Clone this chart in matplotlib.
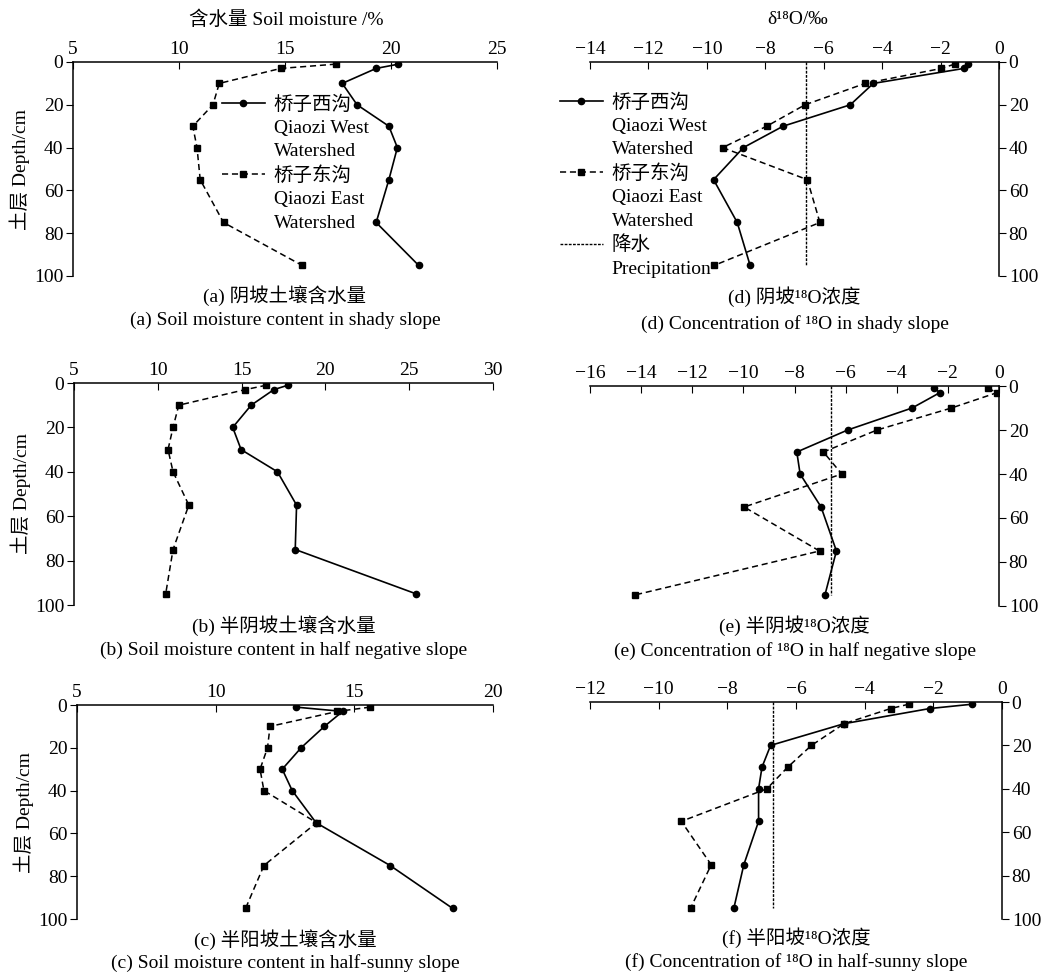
import matplotlib
matplotlib.use('Agg')
import matplotlib.pyplot as plt
from matplotlib.lines import Line2D

# depth of samples (cm)
depth = [1, 3, 10, 20, 30, 40, 55, 75, 95]
precip_depth = [0, 95]

# soil moisture (%)
west_a = [20.35, 19.3, 17.7, 18.4, 19.9, 20.3, 19.9, 19.3, 21.3]
east_a = [17.4, 14.8, 11.9, 11.6, 10.65, 10.85, 11.0, 12.1, 15.8]
west_b = [17.76, 16.92, 15.57, 14.47, 14.97, 17.14, 18.28, 18.2, 25.42]
east_b = [16.48, 15.21, 11.25, 10.91, 10.61, 10.91, 11.85, 10.91, 10.47]
west_c = [12.9, 14.58, 13.92, 13.08, 12.4, 12.76, 13.62, 16.29, 18.54]
east_c = [15.57, 14.39, 11.96, 11.87, 11.6, 11.74, 13.64, 11.74, 11.08]

# delta 18O (permil)
west_d = [-1.06, -1.2, -4.3, -5.09, -7.39, -8.75, -9.77, -8.96, -8.52]
east_d = [-1.52, -1.97, -4.58, -6.64, -7.95, -9.46, -6.56, -6.13, -9.74]
west_e = [-2.53, -2.31, -3.4, -5.92, -7.91, -7.78, -6.96, -6.36, -6.81]
east_e = [-0.44, -0.07, -1.86, -4.77, -6.87, -6.15, -9.97, -7.02, -14.25]
west_f = [-0.86, -2.1, -4.6, -6.74, -6.99, -7.09, -7.09, -7.52, -7.81]
east_f = [-2.71, -3.24, -4.6, -5.55, -6.24, -6.85, -9.34, -8.47, -9.07]
precip = {'d': -6.6, 'e': -6.58, 'f': -6.68}

xticks = {
    'a': [5, 10, 15, 20, 25],
    'b': [5, 10, 15, 20, 25, 30],
    'c': [5, 10, 15, 20],
    'd': [-14, -12, -10, -8, -6, -4, -2, 0],
    'e': [-16, -14, -12, -10, -8, -6, -4, -2, 0],
    'f': [-12, -10, -8, -6, -4, -2, 0],
}
cap_cn = {
    'a': '(a) 阴坡土壤含水量',
    'b': '(b) 半阴坡土壤含水量',
    'c': '(c) 半阳坡土壤含水量',
    'd': '(d) 阴坡¹⁸O浓度',
    'e': '(e) 半阴坡¹⁸O浓度',
    'f': '(f) 半阳坡¹⁸O浓度',
}
cap_en = {
    'a': '(a) Soil moisture content in shady slope',
    'b': '(b) Soil moisture content in half negative slope',
    'c': '(c) Soil moisture content in half-sunny slope',
    'd': '(d) Concentration of ¹⁸O in shady slope',
    'e': '(e) Concentration of ¹⁸O in half negative slope',
    'f': '(f) Concentration of ¹⁸O in half-sunny slope',
}

FAM = ['Liberation Serif', 'Noto Sans CJK SC', 'DejaVu Sans']
FS = 14
plt.rcParams['font.family'] = FAM
plt.rcParams['font.size'] = FS

W, H = 1043, 972
fig = plt.figure(figsize=(W / 100, H / 100), dpi=100)

# pixel boxes: left, right, top, bottom
boxes = {
    'a': (73, 497, 62, 276), 'd': (590, 999, 62, 276),
    'b': (74, 493, 383, 605), 'e': (590, 999, 386, 606),
    'c': (77, 493, 705, 919), 'f': (590, 1002, 702, 919),
}
cap_y = {'a': (296, 320), 'b': (626, 650), 'c': (940, 963),
         'd': (297, 324), 'e': (626, 651), 'f': (938, 962)}

data = {'a': (west_a, east_a), 'b': (west_b, east_b), 'c': (west_c, east_c),
        'd': (west_d, east_d), 'e': (west_e, east_e), 'f': (west_f, east_f)}

axes = {}
for k, (l, r, t, b) in boxes.items():
    ax = fig.add_axes([l / W, 1 - b / H, (r - l) / W, (b - t) / H])
    axes[k] = ax
    west, east = data[k]
    ax.plot(west, depth, color='k', lw=1.2, marker='o', ms=4.5)
    ax.plot(east, depth, color='k', lw=1.1, ls=(0, (4, 2.5)), marker='s', ms=5)
    if k in precip:
        ax.plot([precip[k], precip[k]], precip_depth, color='k', lw=1.0,
                ls=(0, (2, 1)))
    xt = xticks[k]
    ax.set_xlim(xt[0], xt[-1])
    ax.set_xticks(xt)
    ax.set_ylim(100, 0)
    ax.set_yticks([0, 20, 40, 60, 80, 100])
    ax.xaxis.tick_top()
    ax.tick_params(axis='x', direction='in', length=5, pad=3, labelsize=FS)
    ax.tick_params(axis='y', direction='out', length=5, pad=2, labelsize=FS)
    ax.spines['bottom'].set_visible(False)
    if k in 'abc':
        ax.spines['right'].set_visible(False)
        ax.set_ylabel('土层 Depth/cm', fontsize=FS, labelpad=3)
    else:
        ax.spines['left'].set_visible(False)
        ax.yaxis.tick_right()
    for s in ax.spines.values():
        s.set_linewidth(1.1)
    ax.patch.set_alpha(0)
    cx = (l + r) / 2 / W
    fig.text(cx, 1 - cap_y[k][0] / H, cap_cn[k], ha='center', va='center', fontsize=FS)
    fig.text(cx, 1 - cap_y[k][1] / H, cap_en[k], ha='center', va='center', fontsize=FS)

fig.text(286 / W, 1 - 20 / H, '含水量 Soil moisture /%', ha='center', va='center', fontsize=FS)
fig.text(798 / W, 1 - 20 / H, 'δ¹⁸O/‰', ha='center', va='center', fontsize=FS)

h_w = Line2D([], [], color='k', lw=1.2, marker='o', ms=4.5)
h_e = Line2D([], [], color='k', lw=1.1, ls=(0, (4, 2.5)), marker='s', ms=5)
h_p = Line2D([], [], color='k', lw=1.0, ls=(0, (2, 1)))
blank = Line2D([], [], ls='none')

leg_kw = dict(frameon=False, borderpad=0, borderaxespad=0, labelspacing=0.3,
              handlelength=2.2, handletextpad=0.45, numpoints=1,
              prop={'family': FAM, 'size': FS}, loc='upper left',
              bbox_transform=fig.transFigure)
axes['a'].legend([h_w, blank, blank, h_e, blank, blank],
                 ['桥子西沟', 'Qiaozi West', 'Watershed',
                  '桥子东沟', 'Qiaozi East', 'Watershed'],
                 bbox_to_anchor=(222 / W, 1 - 95 / H), **leg_kw)
axes['d'].legend([h_w, blank, blank, h_e, blank, blank, h_p, blank],
                 ['桥子西沟', 'Qiaozi West', 'Watershed',
                  '桥子东沟', 'Qiaozi East', 'Watershed', '降水', 'Precipitation'],
                 bbox_to_anchor=(560 / W, 1 - 93 / H), **leg_kw)

fig.savefig('out.png', dpi=100)
